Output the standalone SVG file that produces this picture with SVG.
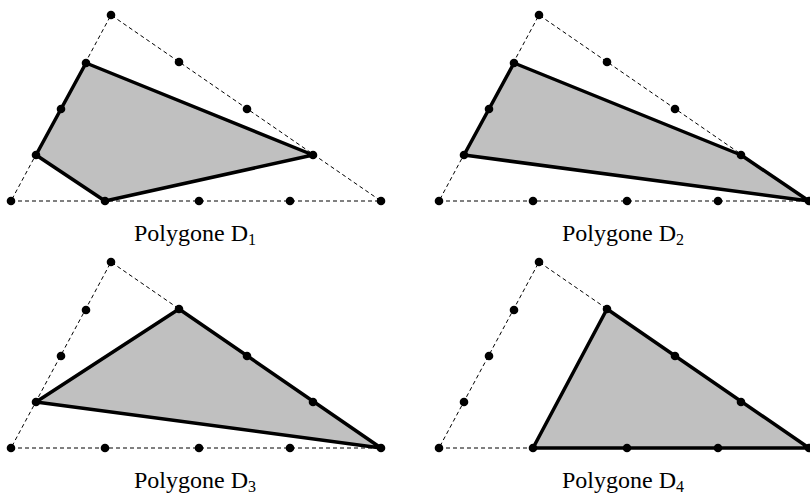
<svg xmlns="http://www.w3.org/2000/svg" width="810" height="494" viewBox="0 0 810 494">
<style>
.dash{fill:none;stroke:#000;stroke-width:1;stroke-dasharray:4 3}
.poly{fill:#c0c0c0;stroke:#000;stroke-width:3.5;stroke-linejoin:round}
.dot{fill:#000}
.lbl{font-family:"Liberation Serif","Times New Roman",serif;font-size:24px;fill:#000;text-anchor:middle}
.sub{font-size:16px}
</style>
<defs>
<g id="dots">
<circle class="dot" cx="11" cy="201" r="4.3"/>
<circle class="dot" cx="105" cy="201" r="4.3"/>
<circle class="dot" cx="199" cy="201" r="4.3"/>
<circle class="dot" cx="290" cy="201" r="4.3"/>
<circle class="dot" cx="381" cy="201" r="4.3"/>
<circle class="dot" cx="36" cy="155" r="4.3"/>
<circle class="dot" cx="61" cy="109" r="4.3"/>
<circle class="dot" cx="86" cy="63" r="4.3"/>
<circle class="dot" cx="111" cy="15" r="4.3"/>
<circle class="dot" cx="179" cy="62" r="4.3"/>
<circle class="dot" cx="247" cy="109" r="4.3"/>
<circle class="dot" cx="313" cy="155" r="4.3"/>
</g>
</defs>
<g id="connectors">
<polygon class="dash" points="11,201 381,201 111,15"/>
<polygon class="dash" transform="translate(428,0)" points="11,201 381,201 111,15"/>
<polygon class="dash" transform="translate(0,247)" points="11,201 381,201 111,15"/>
<polygon class="dash" transform="translate(428,247)" points="11,201 381,201 111,15"/>
</g>
<g id="polygone-d1">
<polygon class="poly" points="86,63 313,155 105,201 36,155"/>
<use href="#dots"/>
<text class="lbl" x="195" y="241">Polygone D<tspan class="sub" dy="4">1</tspan></text>
</g>
<g id="polygone-d2" transform="translate(428,0)">
<polygon class="poly" points="86,63 313,155 381,201 36,155"/>
<use href="#dots"/>
<text class="lbl" x="195" y="241">Polygone D<tspan class="sub" dy="4">2</tspan></text>
</g>
<g id="polygone-d3" transform="translate(0,247)">
<polygon class="poly" points="36,155 179,62 381,201"/>
<use href="#dots"/>
<text class="lbl" x="195" y="241">Polygone D<tspan class="sub" dy="4">3</tspan></text>
</g>
<g id="polygone-d4" transform="translate(428,247)">
<polygon class="poly" points="105,201 179,62 381,201"/>
<use href="#dots"/>
<text class="lbl" x="195" y="241">Polygone D<tspan class="sub" dy="4">4</tspan></text>
</g>
</svg>
